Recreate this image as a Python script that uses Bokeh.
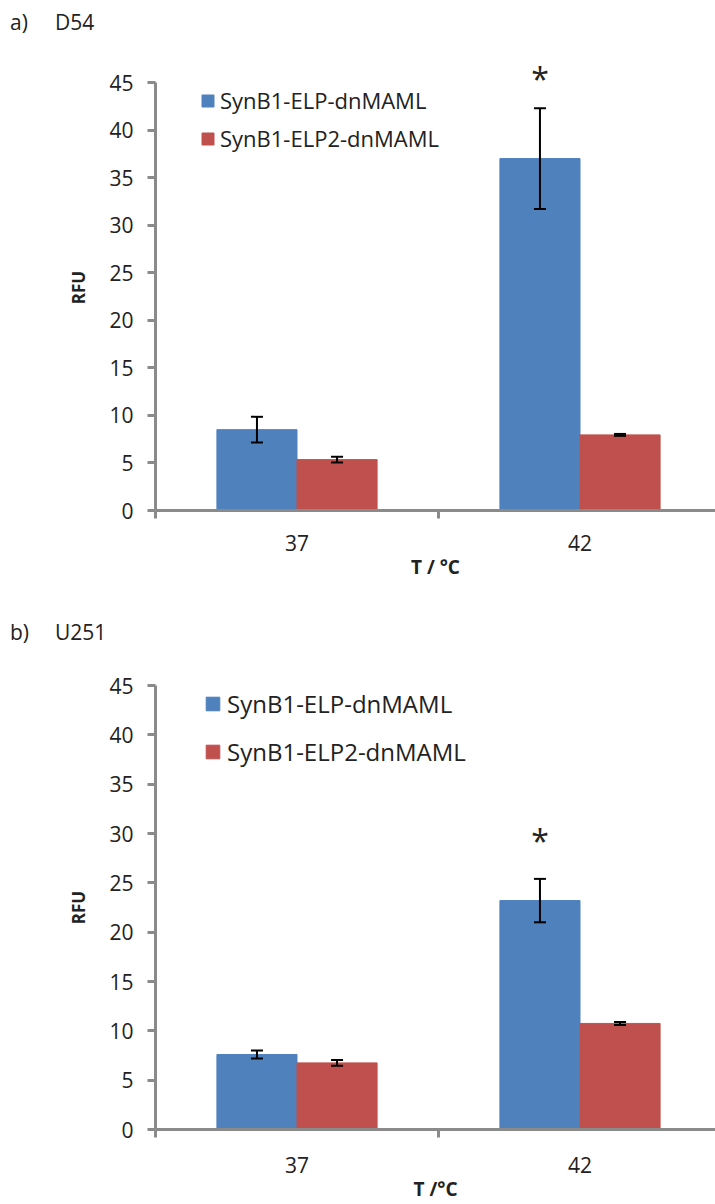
from bokeh.plotting import figure
from bokeh.layouts import column
from bokeh.models import (ColumnDataSource, Range1d, FixedTicker, Whisker, TeeHead, Label, Div)
from bokeh.embed import file_html
from bokeh.resources import INLINE

# ---------------- data ----------------
temps = ["37", "42"]
series_names = ["SynB1-ELP-dnMAML", "SynB1-ELP2-dnMAML"]
colors = ["#4F81BD", "#C0504D"]
y_ticks = [0, 5, 10, 15, 20, 25, 30, 35, 40, 45]

d54_elp = [8.5, 37.0]
d54_elp_err = [1.35, 5.3]
d54_elp2 = [5.35, 7.95]
d54_elp2_err = [0.3, 0.1]

u251_elp = [7.6, 23.2]
u251_elp_err = [0.4, 2.2]
u251_elp2 = [6.75, 10.75]
u251_elp2_err = [0.3, 0.15]

significant = [False, True]   # star above SynB1-ELP-dnMAML bar

FONT = "Open Sans"
AXIS_COLOR = "#8a8a8a"
TEXT_COLOR = "#222222"
WIDTH = 715
LEFT = 155
X_END = (WIDTH - LEFT) / 283.0
TITLE_H = 40


def title_div(letter, cell, pad_top):
    html = ('<div style="font-family:\'Open Sans\'; font-size:21px; line-height:28px; '
            'color:%s; padding-top:%dpx; white-space:nowrap;">'
            '<span style="display:inline-block; width:45px; margin-left:10px;">%s</span>'
            '<span style="display:inline-block;">%s</span></div>') % (TEXT_COLOR, pad_top, letter, cell)
    return Div(text=html, width=WIDTH, height=TITLE_H, margin=(0, 0, 0, 0))


def make_panel(height, top, bottom, y_end, vals, errs, xlabel, tick_standoff,
               legend_loc, legend_spacing, legend_font, glyph, standoff, star_off):
    p = figure(width=WIDTH, height=height, output_backend="svg", toolbar_location=None,
               x_range=Range1d(0, X_END), y_range=Range1d(0, y_end),
               min_border_left=LEFT, min_border_right=0, min_border_top=top,
               min_border_bottom=bottom, margin=(0, 0, 0, 0))
    p.outline_line_color = None
    p.xgrid.visible = False
    p.ygrid.visible = False

    bar_w = 0.283
    offsets = [-bar_w / 2, bar_w / 2]
    for k in range(2):
        xs = [i + 0.5 + offsets[k] for i in range(len(temps))]
        src = ColumnDataSource(dict(x=xs, top=vals[k],
                                    upper=[v + e for v, e in zip(vals[k], errs[k])],
                                    lower=[v - e for v, e in zip(vals[k], errs[k])]))
        p.vbar(x="x", top="top", width=bar_w, source=src, fill_color=colors[k],
               line_color=colors[k], legend_label=series_names[k])
        w = Whisker(base="x", upper="upper", lower="lower", source=src,
                    line_color="black", line_width=2, level="annotation",
                    upper_head=TeeHead(size=12, line_width=2, line_color="black"),
                    lower_head=TeeHead(size=12, line_width=2, line_color="black"))
        p.add_layout(w)
        if k == 0:
            for x, v, e, s in zip(xs, vals[k], errs[k], significant):
                if s:
                    p.add_layout(Label(x=x, y=v + e, text="*", text_font=FONT,
                                       text_font_size="32px", text_align="center",
                                       text_baseline="alphabetic", y_offset=star_off,
                                       text_color=TEXT_COLOR))

    # y axis
    ya = p.yaxis[0]
    ya.ticker = FixedTicker(ticks=y_ticks)
    ya.bounds = (0, 45)
    ya.axis_line_color = AXIS_COLOR
    ya.axis_line_width = 3
    ya.major_tick_line_color = AXIS_COLOR
    ya.major_tick_line_width = 3
    ya.major_tick_out = 8
    ya.major_tick_in = 0
    ya.minor_tick_line_color = None
    ya.major_label_text_font = FONT
    ya.major_label_text_font_size = "21px"
    ya.major_label_text_color = TEXT_COLOR
    ya.major_label_standoff = 14
    ya.axis_label = "RFU"
    ya.axis_label_text_font = FONT
    ya.axis_label_text_font_style = "bold"
    ya.axis_label_text_font_size = "17px"
    ya.axis_label_text_color = TEXT_COLOR
    ya.axis_label_standoff = 16

    # x axis
    xa = p.xaxis[0]
    centers = [i + 0.5 for i in range(len(temps))]
    xa.ticker = FixedTicker(ticks=centers, minor_ticks=list(range(len(temps) + 1)))
    xa.major_label_overrides = {c: t for c, t in zip(centers, temps)}
    xa.axis_line_color = AXIS_COLOR
    xa.axis_line_width = 3
    xa.major_tick_line_color = None
    xa.major_tick_out = 0
    xa.major_tick_in = 0
    xa.minor_tick_line_color = AXIS_COLOR
    xa.minor_tick_line_width = 3
    xa.minor_tick_out = 8
    xa.minor_tick_in = 0
    xa.major_label_text_font = FONT
    xa.major_label_text_font_size = "21px"
    xa.major_label_text_color = TEXT_COLOR
    xa.major_label_standoff = tick_standoff
    xa.axis_label = xlabel
    xa.axis_label_text_font = FONT
    xa.axis_label_text_font_style = "bold"
    xa.axis_label_text_font_size = "19px"
    xa.axis_label_text_color = TEXT_COLOR
    xa.axis_label_standoff = 0

    # legend
    leg = p.legend[0]
    leg.location = legend_loc
    leg.padding = 0
    leg.margin = 0
    leg.spacing = legend_spacing
    leg.glyph_width = glyph
    leg.glyph_height = glyph
    leg.label_standoff = standoff
    leg.label_text_font = FONT
    leg.label_text_font_size = legend_font
    leg.label_text_color = TEXT_COLOR
    leg.border_line_alpha = 0
    leg.background_fill_alpha = 0
    return p


ta = title_div("a)", "D54", 8)
# panel a: frame top at page y=64 so the star fits; 45 sits at y=82
pa = make_panel(608 - TITLE_H, 64 - TITLE_H, 98, 45 + 18 / 9.51,
                [d54_elp, d54_elp2], [d54_elp_err, d54_elp2_err], "T / °C", 16,
                (45, 357), 8, "22px", 15, 5, 30)
tb = title_div("b)", "U251", 10)
pb = make_panel(596 - TITLE_H, 77 - TITLE_H, 71, 45,
                [u251_elp, u251_elp2], [u251_elp_err, u251_elp2_err], "T /°C", 19,
                (49, 361), 15, "24px", 17, 6, 38)

layout = column(ta, pa, tb, pb, spacing=0)
open("out.html", "w").write(file_html(layout, INLINE))
